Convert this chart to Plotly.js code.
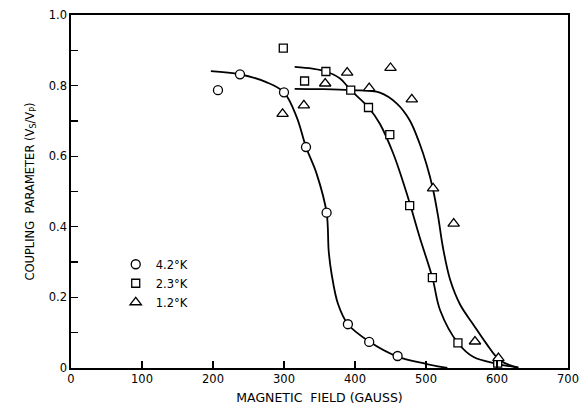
<!DOCTYPE html>
<html>
<head>
<meta charset="utf-8">
<script src="https://cdn.plot.ly/plotly-3.0.1.min.js"></script>
<style>html,body{margin:0;padding:0;background:#fff;}#chart{width:584px;height:405px;}</style>
</head>
<body>
<div id="chart"></div>
<script>
// Measured points (magnetic field in gauss, coupling parameter)
const field42 = [207, 238, 300, 331, 360, 390, 420, 460];
const coup42  = [0.787, 0.832, 0.781, 0.626, 0.44, 0.124, 0.074, 0.034];

const field23 = [299, 329, 359, 394, 419, 449, 477, 509, 545, 601];
const coup23  = [0.906, 0.813, 0.84, 0.787, 0.738, 0.661, 0.46, 0.256, 0.071, 0.014];

const field12 = [298, 328, 358, 389, 420, 450, 480, 510, 539, 569, 602];
const coup12  = [0.72, 0.744, 0.806, 0.837, 0.793, 0.85, 0.761, 0.509, 0.409, 0.075, 0.028];

// Hand-drawn smooth curves
const curve42X = [197, 238, 275, 300, 318, 331, 346, 360, 363, 367, 376, 390, 420, 459, 500, 530];
const curve42Y = [0.841, 0.832, 0.81, 0.781, 0.71, 0.626, 0.55, 0.44, 0.33, 0.267, 0.182, 0.124, 0.075, 0.033, 0.012, 0.0];

const curve23X = [315, 340, 359, 379, 394, 419, 435, 454, 470, 478, 491, 509, 520, 545, 567, 600, 630];
const curve23Y = [0.853, 0.848, 0.84, 0.82, 0.787, 0.738, 0.692, 0.607, 0.513, 0.461, 0.371, 0.256, 0.163, 0.071, 0.031, 0.012, 0.001];

const curve12X = [315, 350, 394, 435, 459, 477, 491, 501, 510, 517, 524, 534, 548, 567, 585, 604, 630];
const curve12Y = [0.791, 0.79, 0.787, 0.78, 0.749, 0.702, 0.636, 0.575, 0.505, 0.43, 0.34, 0.25, 0.18, 0.122, 0.069, 0.022, 0.001];

const xTicks = [0, 100, 200, 300, 400, 500, 600, 700];
const xTickText = ['0', '100', '200', '300', '400', '500', '600', '700'];
const yTicks = [0, 0.2, 0.4, 0.6, 0.8, 1.0];
const yTickText = ['0', '0.2', '0.4', '0.6', '0.8', '1.0'];

const seriesNames = ['4.2°K', '2.3°K', '1.2°K'];

const font = {family: 'DejaVu Sans, Arial, sans-serif', size: 11.5, color: '#000'};
const lineStyle = {color: '#000', width: 1.8, shape: 'spline', smoothing: 1};

function curve(x, y) {
  return {x: x, y: y, mode: 'lines', line: lineStyle, showlegend: false, hoverinfo: 'skip'};
}
function pts(x, y, name, symbol, size) {
  return {x: x, y: y, name: name, mode: 'markers',
    marker: {symbol: symbol, size: size, color: '#fff', line: {color: '#000', width: 1.3}}};
}

const data = [
  curve(curve42X, curve42Y),
  curve(curve23X, curve23Y),
  curve(curve12X, curve12Y),
  pts(field42, coup42, seriesNames[0], 'circle', 9),
  pts(field23, coup23, seriesNames[1], 'square', 8),
  pts(field12, coup12, seriesNames[2], 'triangle-up', 10)
];

const layout = {
  width: 584, height: 405,
  margin: {l: 71, r: 16, t: 15, b: 37},
  paper_bgcolor: '#fff', plot_bgcolor: '#fff',
  font: font,
  showlegend: true,
  legend: {x: 0.09, y: 0.335, xanchor: 'left', yanchor: 'top', bgcolor: 'rgba(0,0,0,0)',
    font: font, tracegroupgap: 0},
  xaxis: {
    range: [0, 700], tickvals: xTicks, ticktext: xTickText,
    ticks: 'inside', ticklen: 7, tickwidth: 1.3, tickcolor: '#000',
    showline: true, linecolor: '#000', linewidth: 1.6, mirror: true,
    showgrid: false, zeroline: false,
    title: {text: 'MAGNETIC  FIELD (GAUSS)', standoff: 12, font: {family: font.family, size: 12.5, color: '#000'}}
  },
  yaxis: {
    range: [0, 1], tickvals: yTicks, ticktext: yTickText,
    ticks: 'inside', ticklen: 7, tickwidth: 1.3, tickcolor: '#000',
    minor: {dtick: 0.1, ticks: 'inside', ticklen: 7, tickwidth: 1.3, tickcolor: '#000', showgrid: false},
    showline: true, linecolor: '#000', linewidth: 1.6, mirror: true,
    showgrid: false, zeroline: false,
    title: {text: 'COUPLING  PARAMETER (V<sub>S</sub>/V<sub>P</sub>)', standoff: 12, font: {family: font.family, size: 11.5, color: '#000'}}
  }
};

Plotly.newPlot('chart', data, layout, {displayModeBar: false, staticPlot: true});
</script>
</body>
</html>
